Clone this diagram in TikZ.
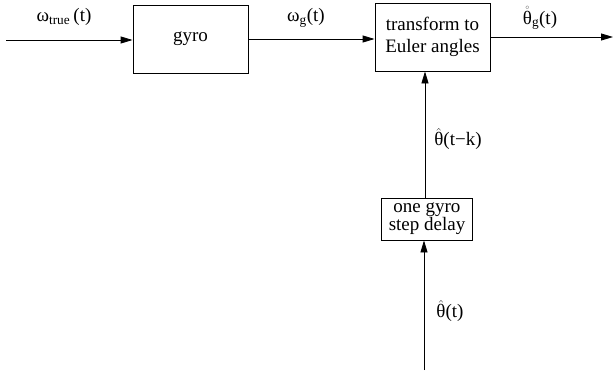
\documentclass[tikz,border=0pt]{standalone}
\usepackage{fontspec}
\setmainfont{Liberation Serif}
\usetikzlibrary{arrows.meta}
\begin{document}
\begin{tikzpicture}[x=1pt,y=-1pt,
  blk/.style={draw,line width=0.9pt,inner sep=0pt,align=center,font=\fontsize{19}{22}\selectfont},
  lbl/.style={inner sep=0pt,font=\fontsize{19}{22}\selectfont},
  conn/.style={line width=0.9pt,-{Triangle[length=12pt,width=7pt]}}]
\useasboundingbox (0,0) rectangle (614,372);
\node[blk,minimum width=115pt,minimum height=68pt] (gyro) at (190.5,39) {gyro};
\node[blk,minimum width=115pt,minimum height=68pt] (tr) at (432.5,37) {transform to\\Euler angles};
\node[blk,minimum width=91pt,minimum height=42pt,font=\fontsize{19}{18}\selectfont] (dl) at (427,219) {one gyro\\step delay};
\coordinate (in) at (6,40);
\coordinate (out) at (613,37);
\coordinate (bot) at (424,370);
\draw[conn] (in) -- (in -| gyro.west);
\draw[conn] (gyro.east |- 0,39) -- (tr.west |- 0,39);
\draw[conn] (tr.east) -- (out);
\draw[conn] (dl.north -| 425,0) -- (tr.south -| 425,0);
\draw[conn] (bot) -- (dl.south -| bot);
\node[lbl] (l1) at (64,17) {ω\textsubscript{true}\,(t)};
\node[lbl] (l2) at (306,18) {ω\textsubscript{g}(t)};
\node[lbl] (l3) at (540,18) {$\mathring{\hbox{θ}}$\textsubscript{g}(t)};
\node[lbl] (l4) at (458,139) {$\hat{\hbox{θ}}$(t−k)};
\node[lbl] (l5) at (450,311) {$\hat{\hbox{θ}}$(t)};
\end{tikzpicture}
\end{document}
